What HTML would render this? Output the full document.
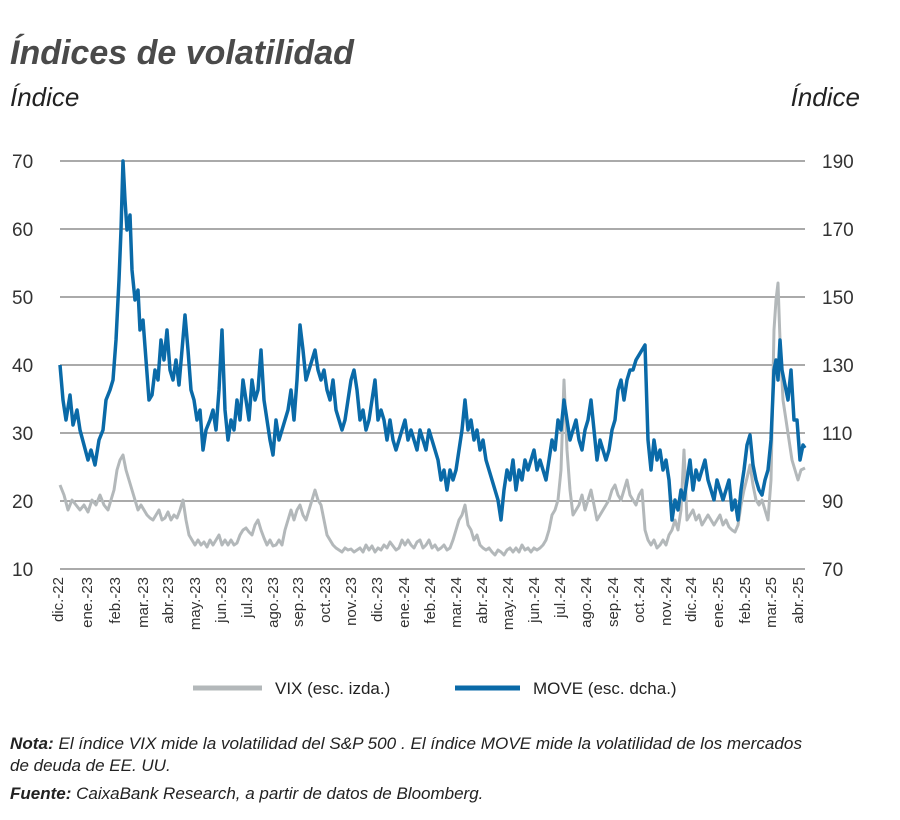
<!DOCTYPE html>
<html><head><meta charset="utf-8"><style>
body{margin:0;background:#fff;width:900px;height:815px;overflow:hidden;font-family:"Liberation Sans",sans-serif;}
</style></head><body>
<svg width="900" height="815" xmlns="http://www.w3.org/2000/svg" font-family="Liberation Sans, sans-serif">
<text x="10" y="64" font-size="34" font-weight="bold" font-style="italic" fill="#4a4a4a">Índices de volatilidad</text>
<text x="10" y="106" font-size="26" font-style="italic" fill="#222">Índice</text>
<text x="860" y="106" font-size="26" font-style="italic" fill="#222" text-anchor="end">Índice</text>
<g stroke="#555" stroke-width="1">
<line x1="60" y1="161" x2="805" y2="161"/><line x1="60" y1="229" x2="805" y2="229"/><line x1="60" y1="297" x2="805" y2="297"/><line x1="60" y1="365" x2="805" y2="365"/><line x1="60" y1="433" x2="805" y2="433"/><line x1="60" y1="501" x2="805" y2="501"/><line x1="60" y1="569" x2="805" y2="569"/>
</g>
<g font-size="19" fill="#333">
<text x="12" y="168">70</text><text x="12" y="236">60</text><text x="12" y="304">50</text><text x="12" y="372">40</text><text x="12" y="440">30</text><text x="12" y="508">20</text><text x="12" y="576">10</text>
<text x="822" y="168">190</text><text x="822" y="236">170</text><text x="822" y="304">150</text><text x="822" y="372">130</text><text x="822" y="440">110</text><text x="822" y="508">90</text><text x="822" y="576">70</text>
</g>
<g font-size="15" fill="#333" text-anchor="end">
<text transform="translate(63,577) rotate(-90)">dic.-22</text>
<text transform="translate(92,577) rotate(-90)">ene.-23</text>
<text transform="translate(120,577) rotate(-90)">feb.-23</text>
<text transform="translate(148,577) rotate(-90)">mar.-23</text>
<text transform="translate(173,577) rotate(-90)">abr.-23</text>
<text transform="translate(200,577) rotate(-90)">may.-23</text>
<text transform="translate(226,577) rotate(-90)">jun.-23</text>
<text transform="translate(252,577) rotate(-90)">jul.-23</text>
<text transform="translate(278,577) rotate(-90)">ago.-23</text>
<text transform="translate(303,577) rotate(-90)">sep.-23</text>
<text transform="translate(330,577) rotate(-90)">oct.-23</text>
<text transform="translate(356,577) rotate(-90)">nov.-23</text>
<text transform="translate(382,577) rotate(-90)">dic.-23</text>
<text transform="translate(409,577) rotate(-90)">ene.-24</text>
<text transform="translate(435,577) rotate(-90)">feb.-24</text>
<text transform="translate(461,577) rotate(-90)">mar.-24</text>
<text transform="translate(487,577) rotate(-90)">abr.-24</text>
<text transform="translate(513,577) rotate(-90)">may.-24</text>
<text transform="translate(539,577) rotate(-90)">jun.-24</text>
<text transform="translate(565,577) rotate(-90)">jul.-24</text>
<text transform="translate(591,577) rotate(-90)">ago.-24</text>
<text transform="translate(618,577) rotate(-90)">sep.-24</text>
<text transform="translate(644,577) rotate(-90)">oct.-24</text>
<text transform="translate(671,577) rotate(-90)">nov.-24</text>
<text transform="translate(696,577) rotate(-90)">dic.-24</text>
<text transform="translate(723,577) rotate(-90)">ene.-25</text>
<text transform="translate(750,577) rotate(-90)">feb.-25</text>
<text transform="translate(776,577) rotate(-90)">mar.-25</text>
<text transform="translate(803,577) rotate(-90)">abr.-25</text>
</g>
<polyline fill="none" stroke="#b3b8ba" stroke-width="3" stroke-linejoin="round" points="60,485 64,495 68,510 72,500 76,505 80,510 84,505 88,512 92,500 96,505 100,495 104,505 108,510 111,500 114,490 117,470 120,460 123,455 126,470 129,480 132,490 135,500 138,510 141,505 144,510 147,515 150,518 153,520 156,515 159,510 162,520 165,518 168,512 171,520 174,515 177,518 180,510 183,500 186,520 189,535 192,540 195,545 198,540 201,545 204,542 207,547 210,540 213,545 216,540 219,535 222,545 225,540 228,545 231,540 234,545 237,543 240,535 243,530 246,528 249,532 252,535 255,525 258,520 261,530 264,538 267,545 270,540 273,546 276,545 279,540 282,545 285,530 288,520 291,510 294,520 297,510 300,505 303,515 306,520 309,510 312,500 315,490 318,500 321,505 324,520 327,535 330,540 333,545 336,548 339,550 342,552 345,548 348,550 351,549 354,552 357,550 360,548 363,552 366,545 369,550 372,546 375,552 378,548 381,550 384,545 387,548 390,542 393,546 396,550 399,548 402,540 405,545 408,540 411,545 414,548 417,542 420,540 423,548 426,545 429,540 432,548 435,545 438,550 441,548 444,545 447,550 450,548 453,540 456,530 459,520 462,515 465,505 468,525 471,530 474,540 477,535 480,545 483,548 486,550 489,548 492,552 495,555 498,550 501,552 504,555 507,550 510,548 513,552 516,548 519,552 522,545 525,550 528,548 531,552 534,548 537,550 540,548 543,545 546,540 549,530 552,515 555,510 558,500 561,470 564,380 567,450 570,490 573,515 576,510 579,505 582,495 585,510 588,500 591,490 594,505 597,520 600,515 603,510 606,505 609,500 612,490 615,485 618,495 621,500 624,490 627,480 630,495 633,500 636,505 639,495 642,490 645,530 648,540 651,545 654,540 657,548 660,545 663,540 666,545 669,535 672,530 675,520 678,530 681,510 684,450 687,520 690,515 693,510 696,520 699,515 702,525 705,520 708,515 711,520 714,525 717,520 720,515 723,525 726,520 729,527 732,530 735,532 738,525 741,505 744,490 747,478 750,465 753,485 756,500 759,505 762,500 765,510 768,520 771,480 774,330 776,300 778,283 780,340 783,400 786,420 789,440 792,460 795,470 798,480 801,470 805,468"/>
<polyline fill="none" stroke="#0a6aa8" stroke-width="3.5" stroke-linejoin="round" points="60,365 63,400 66,420 70,395 73,425 77,410 80,430 84,445 88,460 91,450 95,465 99,440 103,430 106,400 110,390 113,380 116,340 119,280 121,230 123,161 125,200 127,230 130,215 132,270 135,300 138,290 140,330 143,320 146,360 149,400 152,395 155,370 158,380 161,340 164,360 167,330 170,370 173,380 176,360 179,385 182,350 185,315 188,350 191,390 194,400 197,420 200,410 203,450 206,430 210,420 213,410 216,430 219,390 222,330 225,410 228,440 231,420 234,430 237,400 240,420 243,380 246,400 249,420 252,380 255,400 258,390 261,350 264,400 267,420 270,440 273,455 276,420 279,440 282,430 285,420 288,410 291,390 294,420 297,380 300,325 303,350 306,380 309,370 312,360 315,350 318,370 321,380 324,370 327,390 330,400 333,380 336,410 339,420 342,430 345,420 348,400 351,380 354,370 357,390 360,420 363,410 366,430 369,420 372,400 375,380 378,420 381,410 384,420 387,440 390,420 393,440 396,450 399,440 402,430 405,420 408,440 411,430 414,440 417,450 420,430 423,440 426,450 429,430 432,440 435,450 438,460 441,480 444,470 447,490 450,470 453,480 456,470 459,450 462,430 465,400 468,430 471,420 474,440 477,430 480,450 483,440 486,460 489,470 492,480 495,490 498,500 501,520 504,490 507,470 510,480 513,460 516,490 519,470 522,480 525,460 528,470 531,460 534,450 537,470 540,460 543,470 546,480 549,460 552,440 555,450 558,420 561,430 564,400 567,420 570,440 573,430 576,420 579,440 582,450 585,430 588,420 591,400 594,430 597,460 600,440 603,450 606,460 609,450 612,430 615,420 618,390 621,380 624,400 627,380 630,370 633,370 636,360 639,355 642,350 645,345 648,440 651,470 654,440 657,460 660,450 663,470 666,460 669,480 672,520 675,500 678,510 681,490 684,500 687,480 690,460 693,490 696,470 699,480 702,470 705,460 708,480 711,490 714,500 717,480 720,490 723,500 726,490 729,480 732,510 735,500 738,520 741,490 744,470 747,445 750,435 753,465 756,480 759,490 762,495 765,480 768,470 771,440 774,370 776,360 778,380 780,340 782,370 785,385 788,400 791,370 794,420 797,420 800,460 803,445 805,448"/>
<line x1="193" y1="688" x2="262" y2="688" stroke="#b3b8ba" stroke-width="5"/>
<text x="275" y="694" font-size="17" fill="#222">VIX (esc. izda.)</text>
<line x1="455" y1="688" x2="520" y2="688" stroke="#0a6aa8" stroke-width="5"/>
<text x="533" y="694" font-size="17" fill="#222">MOVE (esc. dcha.)</text>
<g font-size="17" font-style="italic" fill="#222">
<text x="10" y="749" textLength="792" lengthAdjust="spacingAndGlyphs"><tspan font-weight="bold">Nota:</tspan> El índice VIX mide la volatilidad del S&amp;P 500 . El índice MOVE mide la volatilidad de los mercados</text>
<text x="10" y="771">de deuda de EE. UU.</text>
<text x="10" y="799"><tspan font-weight="bold">Fuente:</tspan> CaixaBank Research, a partir de datos de Bloomberg.</text>
</g>
</svg>
</body></html>
